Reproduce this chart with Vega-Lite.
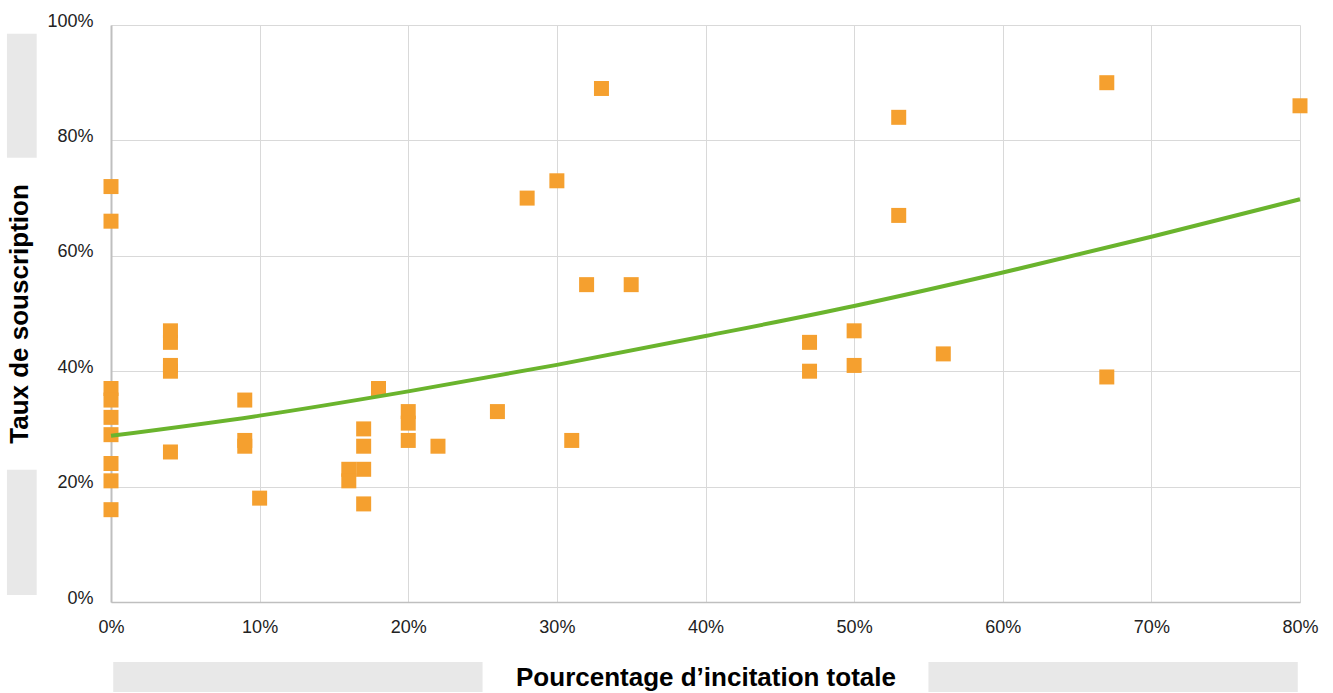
{
  "$schema": "https://vega.github.io/schema/vega-lite/v6.json",
  "width": 1189,
  "height": 577,
  "autosize": {"type": "none"},
  "padding": {"left": 111, "top": 25, "right": 33, "bottom": 91},
  "background": "white",
  "config": {
    "view": {"stroke": null},
    "font": "Liberation Sans",
    "axis": {
      "labelFont": "Liberation Sans",
      "labelFontSize": 18,
      "labelColor": "#222222",
      "labelFlush": false,
      "labelOverlap": false,
      "titleFont": "Liberation Sans",
      "titleFontSize": 26,
      "titleFontWeight": "bold",
      "titleColor": "#000000",
      "grid": true,
      "gridColor": "#d9d9d9",
      "gridWidth": 1,
      "domainColor": "#bfbfbf",
      "ticks": false
    }
  },
  "datasets": {
    "points": [
      {"incitation": 0.00, "souscription": 0.72},
      {"incitation": 0.00, "souscription": 0.66},
      {"incitation": 0.00, "souscription": 0.37},
      {"incitation": 0.00, "souscription": 0.35},
      {"incitation": 0.00, "souscription": 0.32},
      {"incitation": 0.00, "souscription": 0.29},
      {"incitation": 0.00, "souscription": 0.24},
      {"incitation": 0.00, "souscription": 0.21},
      {"incitation": 0.00, "souscription": 0.16},
      {"incitation": 0.04, "souscription": 0.47},
      {"incitation": 0.04, "souscription": 0.45},
      {"incitation": 0.04, "souscription": 0.41},
      {"incitation": 0.04, "souscription": 0.40},
      {"incitation": 0.04, "souscription": 0.26},
      {"incitation": 0.09, "souscription": 0.35},
      {"incitation": 0.09, "souscription": 0.28},
      {"incitation": 0.09, "souscription": 0.27},
      {"incitation": 0.10, "souscription": 0.18},
      {"incitation": 0.16, "souscription": 0.23},
      {"incitation": 0.16, "souscription": 0.21},
      {"incitation": 0.17, "souscription": 0.30},
      {"incitation": 0.17, "souscription": 0.27},
      {"incitation": 0.17, "souscription": 0.23},
      {"incitation": 0.17, "souscription": 0.17},
      {"incitation": 0.18, "souscription": 0.37},
      {"incitation": 0.20, "souscription": 0.33},
      {"incitation": 0.20, "souscription": 0.31},
      {"incitation": 0.20, "souscription": 0.28},
      {"incitation": 0.22, "souscription": 0.27},
      {"incitation": 0.26, "souscription": 0.33},
      {"incitation": 0.28, "souscription": 0.70},
      {"incitation": 0.30, "souscription": 0.73},
      {"incitation": 0.31, "souscription": 0.28},
      {"incitation": 0.32, "souscription": 0.55},
      {"incitation": 0.33, "souscription": 0.89},
      {"incitation": 0.35, "souscription": 0.55},
      {"incitation": 0.47, "souscription": 0.45},
      {"incitation": 0.47, "souscription": 0.40},
      {"incitation": 0.50, "souscription": 0.47},
      {"incitation": 0.50, "souscription": 0.41},
      {"incitation": 0.53, "souscription": 0.84},
      {"incitation": 0.53, "souscription": 0.67},
      {"incitation": 0.56, "souscription": 0.43},
      {"incitation": 0.67, "souscription": 0.90},
      {"incitation": 0.67, "souscription": 0.39},
      {"incitation": 0.80, "souscription": 0.86}
    ],
    "trend": [
      {"incitation": 0.00, "tendance": 0.288},
      {"incitation": 0.10, "tendance": 0.323},
      {"incitation": 0.20, "tendance": 0.365},
      {"incitation": 0.30, "tendance": 0.411},
      {"incitation": 0.40, "tendance": 0.461},
      {"incitation": 0.50, "tendance": 0.513},
      {"incitation": 0.60, "tendance": 0.571},
      {"incitation": 0.70, "tendance": 0.633},
      {"incitation": 0.80, "tendance": 0.698}
    ]
  },
  "layer": [
    {
      "data": {"values": [{}]},
      "mark": {"type": "rect", "color": "#e8e8e8", "clip": false},
      "encoding": {
        "x": {"datum": 0.0015, "type": "quantitative", "scale": {"domain": [0, 0.8], "nice": false}},
        "x2": {"datum": 0.250},
        "y": {"datum": -0.104, "type": "quantitative", "scale": {"domain": [0, 1], "nice": false}},
        "y2": {"datum": -0.156}
      }
    },
    {
      "data": {"values": [{}]},
      "mark": {"type": "rect", "color": "#e8e8e8", "clip": false},
      "encoding": {
        "x": {"datum": 0.550, "type": "quantitative"},
        "x2": {"datum": 0.7985},
        "y": {"datum": -0.104, "type": "quantitative"},
        "y2": {"datum": -0.156}
      }
    },
    {
      "data": {"values": [{}]},
      "mark": {"type": "rect", "color": "#e8e8e8", "clip": false},
      "encoding": {
        "x": {"datum": -0.070, "type": "quantitative"},
        "x2": {"datum": -0.050},
        "y": {"datum": 0.985, "type": "quantitative"},
        "y2": {"datum": 0.770}
      }
    },
    {
      "data": {"values": [{}]},
      "mark": {"type": "rect", "color": "#e8e8e8", "clip": false},
      "encoding": {
        "x": {"datum": -0.070, "type": "quantitative"},
        "x2": {"datum": -0.050},
        "y": {"datum": 0.229, "type": "quantitative"},
        "y2": {"datum": 0.012}
      }
    },
    {
      "data": {"name": "points"},
      "mark": {"type": "point", "shape": "square", "filled": true, "size": 225, "color": "#f5a02f", "opacity": 1},
      "encoding": {
        "x": {
          "field": "incitation", "type": "quantitative",
          "scale": {"domain": [0, 0.8], "nice": false},
          "axis": {
            "format": ".0%", "values": [0, 0.1, 0.2, 0.3, 0.4, 0.5, 0.6, 0.7, 0.8],
            "title": "Pourcentage d’incitation totale",
            "labelPadding": 16, "titlePadding": 28, "domainWidth": 1.5, "grid": true
          }
        },
        "y": {
          "field": "souscription", "type": "quantitative",
          "scale": {"domain": [0, 1], "nice": false},
          "axis": {
            "format": ".0%", "values": [0, 0.2, 0.4, 0.6, 0.8, 1],
            "title": "Taux de souscription",
            "labelPadding": 18, "labelOffset": -4, "titlePadding": 14, "domainWidth": 2, "grid": true
          }
        }
      }
    },
    {
      "data": {"name": "trend"},
      "mark": {"type": "line", "color": "#6ab42d", "strokeWidth": 4, "interpolate": "monotone"},
      "encoding": {
        "x": {"field": "incitation", "type": "quantitative"},
        "y": {"field": "tendance", "type": "quantitative"}
      }
    }
  ]
}
